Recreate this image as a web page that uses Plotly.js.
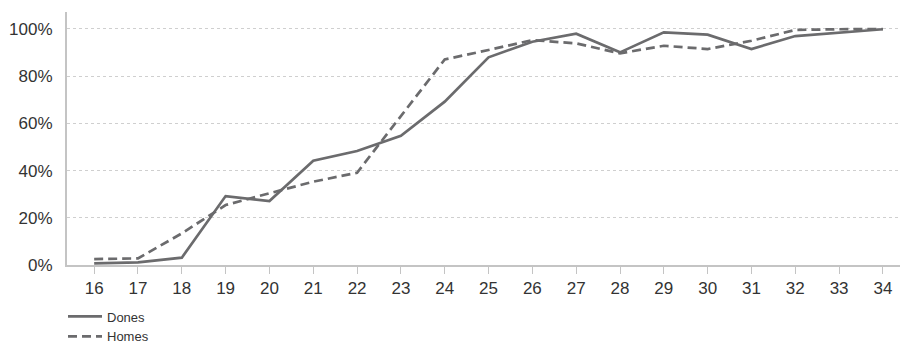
<!DOCTYPE html>
<html><head><meta charset="utf-8">
<script src="https://cdn.plot.ly/plotly-3.0.1.min.js"></script>
<style>body{margin:0;background:#fff}#c{width:905px;height:344px}</style>
</head><body><div id="c"></div>
<script>
const ages = [16,17,18,19,20,21,22,23,24,25,26,27,28,29,30,31,32,33,34];
const dones = [0.007,0.011,0.031,0.292,0.271,0.442,0.483,0.547,0.692,0.880,0.946,0.980,0.901,0.986,0.976,0.915,0.970,0.984,0.999];
const homes = [0.025,0.028,0.134,0.254,0.304,0.353,0.391,0.633,0.871,0.911,0.953,0.939,0.897,0.929,0.915,0.950,0.996,0.999,1.000];
const yTicks = [0,0.2,0.4,0.6,0.8,1.0];
const yTickText = ['0%','20%','40%','60%','80%','100%'];

const lineColor = '#6b6b6d';
const traces = [
  {x: ages, y: dones, name: 'Dones', type: 'scatter', mode: 'lines', line: {color: lineColor, width: 2.7}},
  {x: ages, y: homes, name: 'Homes', type: 'scatter', mode: 'lines', line: {color: lineColor, width: 2.7, dash: '9px,5px'}}
];
const font = {family: 'Liberation Sans, Arial, sans-serif', color: '#333'};
const layout = {
  width: 905, height: 344,
  margin: {l: 67, r: 5, t: 12, b: 79, autoexpand: false},
  paper_bgcolor: '#fff', plot_bgcolor: '#fff',
  font: font,
  showlegend: true,
  legend: {orientation: 'v', xref: 'container', yref: 'container', x: 63/905, xanchor: 'left', y: 1 - 301.5/344, yanchor: 'top',
           font: {size: 13, color: '#333'}, tracegroupgap: 0, itemwidth: 34, bgcolor: 'rgba(0,0,0,0)'},
  xaxis: {
    range: [15.38, 34.39], tickvals: ages, ticktext: ages.map(String), automargin: false,
    showgrid: false, zeroline: false, showline: true, linecolor: '#c4c4c4', linewidth: 2,
    ticks: 'outside', ticklen: 7, tickcolor: '#c4c4c4', tickwidth: 1,
    tickfont: {size: 17, color: '#333'}
  },
  yaxis: {
    range: [0, 1.072], tickvals: yTicks, ticktext: yTickText, automargin: false,
    showgrid: true, gridcolor: '#cfcfcf', griddash: 'dot', gridwidth: 1,
    zeroline: false, showline: true, linecolor: '#c4c4c4', linewidth: 2,
    ticks: '', ticklabelstandoff: 9, tickfont: {size: 17, color: '#333'}
  }
};
Plotly.newPlot('c', traces, layout, {displayModeBar: false, staticPlot: true});
</script></body></html>
